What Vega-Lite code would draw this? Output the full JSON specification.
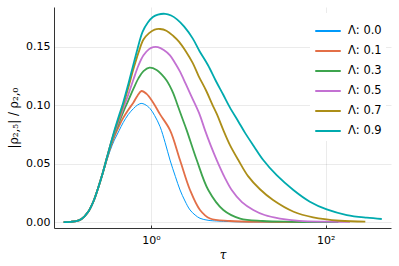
{
  "$schema": "https://vega.github.io/schema/vega-lite/v6.json",
  "width": 337,
  "height": 221,
  "autosize": {"type": "none"},
  "padding": {"left": 54, "top": 7, "right": 8, "bottom": 38},
  "background": "white",
  "config": {
    "view": {"stroke": null},
    "font": "DejaVu Sans"
  },
  "data": {
    "values": [
      {"lam": "Λ: 0.0", "tau": 0.1, "v": 0.0},
      {"lam": "Λ: 0.0", "tau": 0.12, "v": 0.0002},
      {"lam": "Λ: 0.0", "tau": 0.14, "v": 0.0008},
      {"lam": "Λ: 0.0", "tau": 0.16, "v": 0.0025},
      {"lam": "Λ: 0.0", "tau": 0.19, "v": 0.0085},
      {"lam": "Λ: 0.0", "tau": 0.22, "v": 0.018},
      {"lam": "Λ: 0.0", "tau": 0.25, "v": 0.03},
      {"lam": "Λ: 0.0", "tau": 0.28, "v": 0.041},
      {"lam": "Λ: 0.0", "tau": 0.31, "v": 0.052},
      {"lam": "Λ: 0.0", "tau": 0.34, "v": 0.061},
      {"lam": "Λ: 0.0", "tau": 0.38, "v": 0.07},
      {"lam": "Λ: 0.0", "tau": 0.43, "v": 0.078},
      {"lam": "Λ: 0.0", "tau": 0.48, "v": 0.085},
      {"lam": "Λ: 0.0", "tau": 0.55, "v": 0.092},
      {"lam": "Λ: 0.0", "tau": 0.63, "v": 0.097},
      {"lam": "Λ: 0.0", "tau": 0.7, "v": 0.1},
      {"lam": "Λ: 0.0", "tau": 0.77, "v": 0.1014},
      {"lam": "Λ: 0.0", "tau": 0.85, "v": 0.1005},
      {"lam": "Λ: 0.0", "tau": 0.975, "v": 0.097},
      {"lam": "Λ: 0.0", "tau": 1.1, "v": 0.091},
      {"lam": "Λ: 0.0", "tau": 1.27, "v": 0.0815},
      {"lam": "Λ: 0.0", "tau": 1.45, "v": 0.068},
      {"lam": "Λ: 0.0", "tau": 1.65, "v": 0.053},
      {"lam": "Λ: 0.0", "tau": 1.9, "v": 0.039},
      {"lam": "Λ: 0.0", "tau": 2.15, "v": 0.0274},
      {"lam": "Λ: 0.0", "tau": 2.45, "v": 0.018},
      {"lam": "Λ: 0.0", "tau": 2.8, "v": 0.0103},
      {"lam": "Λ: 0.0", "tau": 3.2, "v": 0.006},
      {"lam": "Λ: 0.0", "tau": 3.64, "v": 0.0032},
      {"lam": "Λ: 0.0", "tau": 4.5, "v": 0.0015},
      {"lam": "Λ: 0.0", "tau": 5.66, "v": 0.0009},
      {"lam": "Λ: 0.0", "tau": 10, "v": 0.0002},
      {"lam": "Λ: 0.0", "tau": 100, "v": 0.0},

      {"lam": "Λ: 0.1", "tau": 0.1, "v": 0.0},
      {"lam": "Λ: 0.1", "tau": 0.12, "v": 0.0002},
      {"lam": "Λ: 0.1", "tau": 0.14, "v": 0.0008},
      {"lam": "Λ: 0.1", "tau": 0.16, "v": 0.0025},
      {"lam": "Λ: 0.1", "tau": 0.19, "v": 0.0085},
      {"lam": "Λ: 0.1", "tau": 0.22, "v": 0.018},
      {"lam": "Λ: 0.1", "tau": 0.25, "v": 0.03},
      {"lam": "Λ: 0.1", "tau": 0.28, "v": 0.042},
      {"lam": "Λ: 0.1", "tau": 0.31, "v": 0.053},
      {"lam": "Λ: 0.1", "tau": 0.34, "v": 0.063},
      {"lam": "Λ: 0.1", "tau": 0.38, "v": 0.073},
      {"lam": "Λ: 0.1", "tau": 0.43, "v": 0.082},
      {"lam": "Λ: 0.1", "tau": 0.48, "v": 0.089},
      {"lam": "Λ: 0.1", "tau": 0.55, "v": 0.096},
      {"lam": "Λ: 0.1", "tau": 0.627, "v": 0.102},
      {"lam": "Λ: 0.1", "tau": 0.7, "v": 0.108},
      {"lam": "Λ: 0.1", "tau": 0.78, "v": 0.112},
      {"lam": "Λ: 0.1", "tau": 0.89, "v": 0.1095},
      {"lam": "Λ: 0.1", "tau": 1.06, "v": 0.102},
      {"lam": "Λ: 0.1", "tau": 1.27, "v": 0.092},
      {"lam": "Λ: 0.1", "tau": 1.65, "v": 0.0786},
      {"lam": "Λ: 0.1", "tau": 2.148, "v": 0.053},
      {"lam": "Λ: 0.1", "tau": 2.797, "v": 0.0274},
      {"lam": "Λ: 0.1", "tau": 3.64, "v": 0.0103},
      {"lam": "Λ: 0.1", "tau": 4.74, "v": 0.003},
      {"lam": "Λ: 0.1", "tau": 8, "v": 0.0009},
      {"lam": "Λ: 0.1", "tau": 20, "v": 0.0001},
      {"lam": "Λ: 0.1", "tau": 115, "v": 0.0},

      {"lam": "Λ: 0.3", "tau": 0.1, "v": 0.0},
      {"lam": "Λ: 0.3", "tau": 0.12, "v": 0.0002},
      {"lam": "Λ: 0.3", "tau": 0.14, "v": 0.0008},
      {"lam": "Λ: 0.3", "tau": 0.16, "v": 0.0025},
      {"lam": "Λ: 0.3", "tau": 0.19, "v": 0.0085},
      {"lam": "Λ: 0.3", "tau": 0.22, "v": 0.018},
      {"lam": "Λ: 0.3", "tau": 0.25, "v": 0.03},
      {"lam": "Λ: 0.3", "tau": 0.28, "v": 0.042},
      {"lam": "Λ: 0.3", "tau": 0.31, "v": 0.054},
      {"lam": "Λ: 0.3", "tau": 0.34, "v": 0.064},
      {"lam": "Λ: 0.3", "tau": 0.38, "v": 0.075},
      {"lam": "Λ: 0.3", "tau": 0.43, "v": 0.085},
      {"lam": "Λ: 0.3", "tau": 0.48, "v": 0.094},
      {"lam": "Λ: 0.3", "tau": 0.55, "v": 0.104},
      {"lam": "Λ: 0.3", "tau": 0.63, "v": 0.114},
      {"lam": "Λ: 0.3", "tau": 0.72, "v": 0.123},
      {"lam": "Λ: 0.3", "tau": 0.82, "v": 0.129},
      {"lam": "Λ: 0.3", "tau": 0.96, "v": 0.132},
      {"lam": "Λ: 0.3", "tau": 1.16, "v": 0.13},
      {"lam": "Λ: 0.3", "tau": 1.33, "v": 0.126},
      {"lam": "Λ: 0.3", "tau": 1.51, "v": 0.121},
      {"lam": "Λ: 0.3", "tau": 1.65, "v": 0.116},
      {"lam": "Λ: 0.3", "tau": 1.8, "v": 0.11},
      {"lam": "Λ: 0.3", "tau": 1.97, "v": 0.102},
      {"lam": "Λ: 0.3", "tau": 2.25, "v": 0.09},
      {"lam": "Λ: 0.3", "tau": 2.56, "v": 0.0786},
      {"lam": "Λ: 0.3", "tau": 3.34, "v": 0.053},
      {"lam": "Λ: 0.3", "tau": 4.53, "v": 0.0274},
      {"lam": "Λ: 0.3", "tau": 6.74, "v": 0.0103},
      {"lam": "Λ: 0.3", "tau": 10.5, "v": 0.003},
      {"lam": "Λ: 0.3", "tau": 19, "v": 0.0009},
      {"lam": "Λ: 0.3", "tau": 40, "v": 0.0002},
      {"lam": "Λ: 0.3", "tau": 140, "v": 0.0},

      {"lam": "Λ: 0.5", "tau": 0.1, "v": 0.0},
      {"lam": "Λ: 0.5", "tau": 0.12, "v": 0.0002},
      {"lam": "Λ: 0.5", "tau": 0.14, "v": 0.0008},
      {"lam": "Λ: 0.5", "tau": 0.16, "v": 0.0025},
      {"lam": "Λ: 0.5", "tau": 0.19, "v": 0.0085},
      {"lam": "Λ: 0.5", "tau": 0.22, "v": 0.018},
      {"lam": "Λ: 0.5", "tau": 0.25, "v": 0.03},
      {"lam": "Λ: 0.5", "tau": 0.28, "v": 0.042},
      {"lam": "Λ: 0.5", "tau": 0.31, "v": 0.054},
      {"lam": "Λ: 0.5", "tau": 0.34, "v": 0.065},
      {"lam": "Λ: 0.5", "tau": 0.38, "v": 0.076},
      {"lam": "Λ: 0.5", "tau": 0.43, "v": 0.087},
      {"lam": "Λ: 0.5", "tau": 0.48, "v": 0.097},
      {"lam": "Λ: 0.5", "tau": 0.55, "v": 0.109},
      {"lam": "Λ: 0.5", "tau": 0.63, "v": 0.122},
      {"lam": "Λ: 0.5", "tau": 0.72, "v": 0.134},
      {"lam": "Λ: 0.5", "tau": 0.82, "v": 0.1425},
      {"lam": "Λ: 0.5", "tau": 0.95, "v": 0.1478},
      {"lam": "Λ: 0.5", "tau": 1.06, "v": 0.1495},
      {"lam": "Λ: 0.5", "tau": 1.2, "v": 0.1495},
      {"lam": "Λ: 0.5", "tau": 1.4, "v": 0.147},
      {"lam": "Λ: 0.5", "tau": 1.65, "v": 0.1425},
      {"lam": "Λ: 0.5", "tau": 1.9, "v": 0.1355},
      {"lam": "Λ: 0.5", "tau": 2.15, "v": 0.1285},
      {"lam": "Λ: 0.5", "tau": 2.5, "v": 0.118},
      {"lam": "Λ: 0.5", "tau": 2.8, "v": 0.11},
      {"lam": "Λ: 0.5", "tau": 3.05, "v": 0.104},
      {"lam": "Λ: 0.5", "tau": 3.6, "v": 0.092},
      {"lam": "Λ: 0.5", "tau": 4.15, "v": 0.0786},
      {"lam": "Λ: 0.5", "tau": 4.8, "v": 0.066},
      {"lam": "Λ: 0.5", "tau": 5.66, "v": 0.053},
      {"lam": "Λ: 0.5", "tau": 7, "v": 0.038},
      {"lam": "Λ: 0.5", "tau": 8.4, "v": 0.0274},
      {"lam": "Λ: 0.5", "tau": 11, "v": 0.017},
      {"lam": "Λ: 0.5", "tau": 14.85, "v": 0.0103},
      {"lam": "Λ: 0.5", "tau": 20, "v": 0.006},
      {"lam": "Λ: 0.5", "tau": 30, "v": 0.003},
      {"lam": "Λ: 0.5", "tau": 50, "v": 0.001},
      {"lam": "Λ: 0.5", "tau": 100, "v": 0.0003},
      {"lam": "Λ: 0.5", "tau": 190, "v": 0.0001},

      {"lam": "Λ: 0.7", "tau": 0.1, "v": 0.0},
      {"lam": "Λ: 0.7", "tau": 0.12, "v": 0.0002},
      {"lam": "Λ: 0.7", "tau": 0.14, "v": 0.0008},
      {"lam": "Λ: 0.7", "tau": 0.16, "v": 0.0025},
      {"lam": "Λ: 0.7", "tau": 0.19, "v": 0.0085},
      {"lam": "Λ: 0.7", "tau": 0.22, "v": 0.018},
      {"lam": "Λ: 0.7", "tau": 0.25, "v": 0.03},
      {"lam": "Λ: 0.7", "tau": 0.28, "v": 0.042},
      {"lam": "Λ: 0.7", "tau": 0.31, "v": 0.054},
      {"lam": "Λ: 0.7", "tau": 0.34, "v": 0.065},
      {"lam": "Λ: 0.7", "tau": 0.38, "v": 0.077},
      {"lam": "Λ: 0.7", "tau": 0.43, "v": 0.089},
      {"lam": "Λ: 0.7", "tau": 0.48, "v": 0.1},
      {"lam": "Λ: 0.7", "tau": 0.55, "v": 0.115},
      {"lam": "Λ: 0.7", "tau": 0.63, "v": 0.131},
      {"lam": "Λ: 0.7", "tau": 0.72, "v": 0.145},
      {"lam": "Λ: 0.7", "tau": 0.82, "v": 0.156},
      {"lam": "Λ: 0.7", "tau": 0.95, "v": 0.1615},
      {"lam": "Λ: 0.7", "tau": 1.1, "v": 0.1645},
      {"lam": "Λ: 0.7", "tau": 1.27, "v": 0.165},
      {"lam": "Λ: 0.7", "tau": 1.5, "v": 0.1635},
      {"lam": "Λ: 0.7", "tau": 1.8, "v": 0.159},
      {"lam": "Λ: 0.7", "tau": 2.1, "v": 0.154},
      {"lam": "Λ: 0.7", "tau": 2.5, "v": 0.146},
      {"lam": "Λ: 0.7", "tau": 3.0, "v": 0.136},
      {"lam": "Λ: 0.7", "tau": 3.5, "v": 0.125},
      {"lam": "Λ: 0.7", "tau": 4.3, "v": 0.112},
      {"lam": "Λ: 0.7", "tau": 5.0, "v": 0.101},
      {"lam": "Λ: 0.7", "tau": 5.7, "v": 0.092},
      {"lam": "Λ: 0.7", "tau": 6.7, "v": 0.079},
      {"lam": "Λ: 0.7", "tau": 8, "v": 0.066},
      {"lam": "Λ: 0.7", "tau": 10, "v": 0.053},
      {"lam": "Λ: 0.7", "tau": 13, "v": 0.039},
      {"lam": "Λ: 0.7", "tau": 17.7, "v": 0.028},
      {"lam": "Λ: 0.7", "tau": 25, "v": 0.0188},
      {"lam": "Λ: 0.7", "tau": 43, "v": 0.0088},
      {"lam": "Λ: 0.7", "tau": 72, "v": 0.004},
      {"lam": "Λ: 0.7", "tau": 146, "v": 0.0011},
      {"lam": "Λ: 0.7", "tau": 285, "v": 0.0003},

      {"lam": "Λ: 0.9", "tau": 0.1, "v": 0.0},
      {"lam": "Λ: 0.9", "tau": 0.12, "v": 0.0002},
      {"lam": "Λ: 0.9", "tau": 0.14, "v": 0.0008},
      {"lam": "Λ: 0.9", "tau": 0.16, "v": 0.0025},
      {"lam": "Λ: 0.9", "tau": 0.19, "v": 0.0085},
      {"lam": "Λ: 0.9", "tau": 0.22, "v": 0.018},
      {"lam": "Λ: 0.9", "tau": 0.25, "v": 0.03},
      {"lam": "Λ: 0.9", "tau": 0.28, "v": 0.042},
      {"lam": "Λ: 0.9", "tau": 0.31, "v": 0.054},
      {"lam": "Λ: 0.9", "tau": 0.34, "v": 0.065},
      {"lam": "Λ: 0.9", "tau": 0.38, "v": 0.078},
      {"lam": "Λ: 0.9", "tau": 0.43, "v": 0.091},
      {"lam": "Λ: 0.9", "tau": 0.48, "v": 0.102},
      {"lam": "Λ: 0.9", "tau": 0.55, "v": 0.118},
      {"lam": "Λ: 0.9", "tau": 0.62, "v": 0.133},
      {"lam": "Λ: 0.9", "tau": 0.7, "v": 0.148},
      {"lam": "Λ: 0.9", "tau": 0.8, "v": 0.1625},
      {"lam": "Λ: 0.9", "tau": 0.92, "v": 0.1705},
      {"lam": "Λ: 0.9", "tau": 1.05, "v": 0.1752},
      {"lam": "Λ: 0.9", "tau": 1.2, "v": 0.1773},
      {"lam": "Λ: 0.9", "tau": 1.45, "v": 0.178},
      {"lam": "Λ: 0.9", "tau": 1.7, "v": 0.1765},
      {"lam": "Λ: 0.9", "tau": 2.0, "v": 0.173},
      {"lam": "Λ: 0.9", "tau": 2.4, "v": 0.167},
      {"lam": "Λ: 0.9", "tau": 3.0, "v": 0.157},
      {"lam": "Λ: 0.9", "tau": 3.6, "v": 0.146},
      {"lam": "Λ: 0.9", "tau": 4.5, "v": 0.134},
      {"lam": "Λ: 0.9", "tau": 5.5, "v": 0.121},
      {"lam": "Λ: 0.9", "tau": 6.7, "v": 0.109},
      {"lam": "Λ: 0.9", "tau": 8, "v": 0.098},
      {"lam": "Λ: 0.9", "tau": 10, "v": 0.086},
      {"lam": "Λ: 0.9", "tau": 12, "v": 0.076},
      {"lam": "Λ: 0.9", "tau": 15, "v": 0.065},
      {"lam": "Λ: 0.9", "tau": 19.3, "v": 0.053},
      {"lam": "Λ: 0.9", "tau": 27.5, "v": 0.04},
      {"lam": "Λ: 0.9", "tau": 42.7, "v": 0.0274},
      {"lam": "Λ: 0.9", "tau": 66, "v": 0.0174},
      {"lam": "Λ: 0.9", "tau": 103, "v": 0.0108},
      {"lam": "Λ: 0.9", "tau": 175, "v": 0.006},
      {"lam": "Λ: 0.9", "tau": 296, "v": 0.0037},
      {"lam": "Λ: 0.9", "tau": 440, "v": 0.0026}
    ]
  },
  "mark": {"type": "line", "interpolate": "catmull-rom", "clip": true},
  "encoding": {
    "x": {
      "field": "tau", "type": "quantitative",
      "scale": {"type": "log", "domain": [0.0774, 561], "nice": false},
      "axis": {
        "title": "τ", "titleFont": "DejaVu Serif", "titleFontStyle": "italic", "titleFontWeight": "normal", "titleFontSize": 12, "titleColor": "#000",
        "titlePadding": 4,
        "values": [1, 100],
        "labelExpr": "datum.value == 1 ? '10⁰' : '10²'",
        "labelFontSize": 11, "labelColor": "#000", "labelPadding": 9,
        "ticks": true, "tickSize": -3, "tickColor": "#333",
        "domainColor": "#333", "domainWidth": 1,
        "grid": true, "gridColor": "#000", "gridOpacity": 0.1, "gridWidth": 0.8
      }
    },
    "y": {
      "field": "v", "type": "quantitative",
      "scale": {"domain": [-0.0051, 0.1838], "nice": false, "zero": false},
      "axis": {
        "title": "|ρ₂,₅| / ρ₂,₀", "titleFont": "DejaVu Serif", "titleFontWeight": "normal", "titleFontSize": 12, "titleColor": "#000",
        "titlePadding": 5,
        "values": [0, 0.05, 0.1, 0.15],
        "format": ".2f",
        "labelFontSize": 11, "labelColor": "#000", "labelPadding": 4,
        "ticks": false,
        "domainColor": "#333", "domainWidth": 1,
        "grid": true, "gridColor": "#000", "gridOpacity": 0.1, "gridWidth": 0.8
      }
    },
    "color": {
      "field": "lam", "type": "nominal",
      "scale": {
        "domain": ["Λ: 0.0", "Λ: 0.1", "Λ: 0.3", "Λ: 0.5", "Λ: 0.7", "Λ: 0.9"],
        "range": ["#009AFA", "#E36F47", "#3EA44E", "#C371D2", "#AC8E18", "#00AAAE"]
      },
      "legend": {
        "title": null, "orient": "none", "legendX": 256, "legendY": 6,
        "fillColor": "white", "padding": 4,
        "symbolType": "stroke", "symbolSize": 650, "symbolStrokeWidth": 2,
        "labelFontSize": 11.5, "labelColor": "#000", "labelOffset": 6,
        "rowPadding": 0
      }
    },
    "strokeWidth": {
      "condition": {"test": "datum.lam == 'Λ: 0.0'", "value": 1},
      "value": 1.8
    }
  }
}
